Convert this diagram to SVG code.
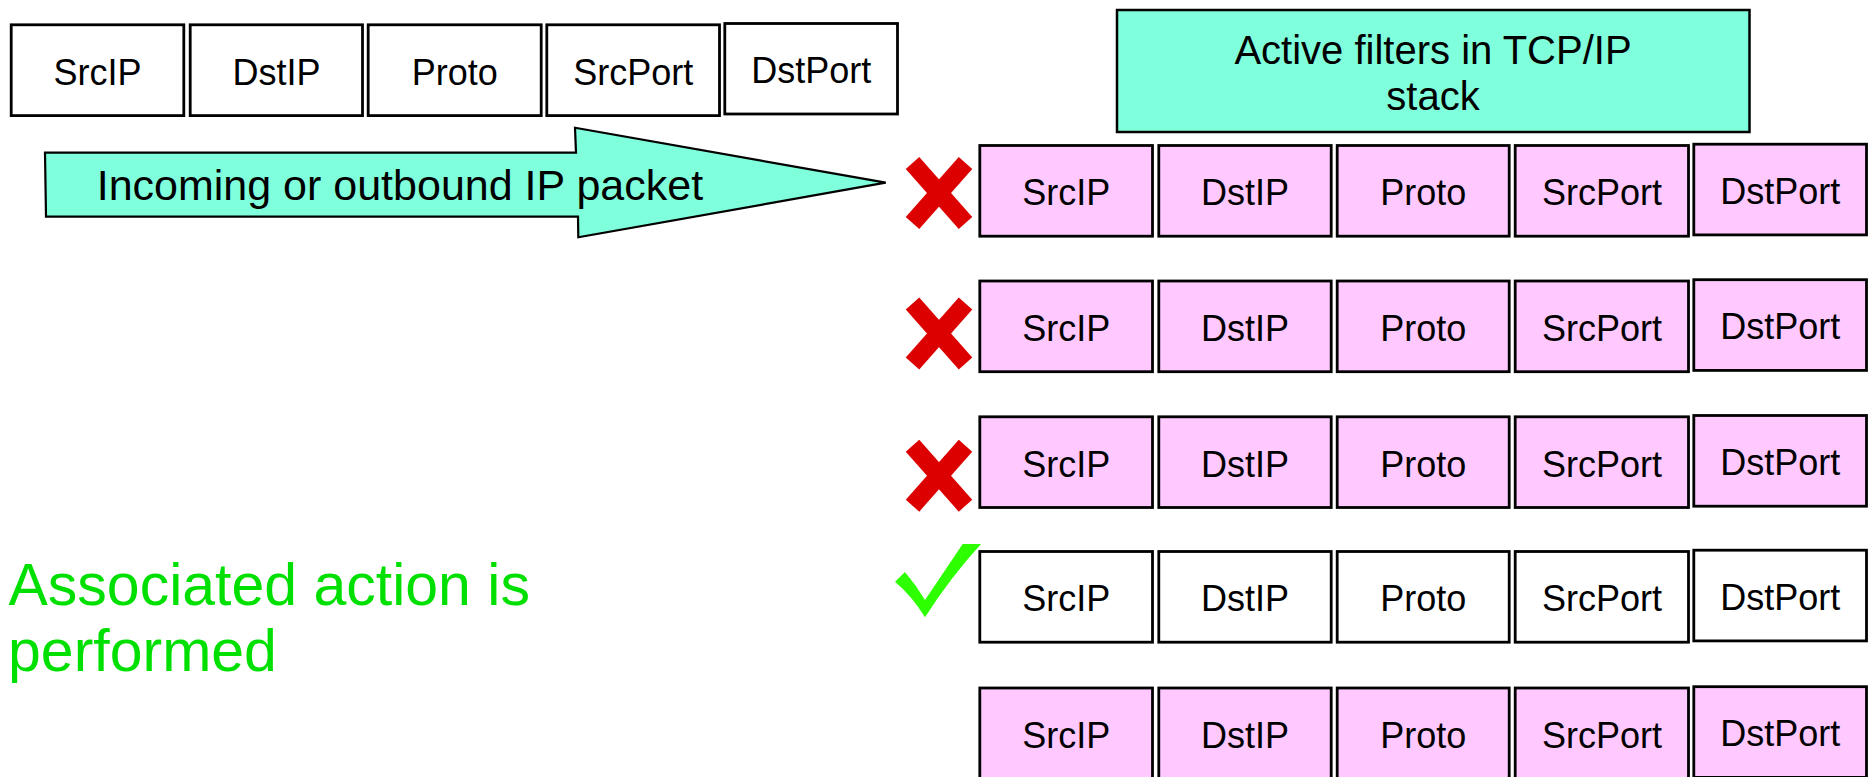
<svg xmlns="http://www.w3.org/2000/svg" xmlns:xlink="http://www.w3.org/1999/xlink" width="1873" height="777" viewBox="0 0 1873 777">
<style>
.box{fill:#ffffff;stroke:#000;stroke-width:2.8}
.pink{fill:#ffc8ff;stroke:#000;stroke-width:2.8}
.lbl{font-family:"Liberation Sans",Arial,sans-serif;font-size:36px;fill:#000;text-anchor:middle}
.teal{fill:#7fffdb;stroke:#000;stroke-width:2.5}
.ttl{font-family:"Liberation Sans",Arial,sans-serif;font-size:40px;fill:#000;text-anchor:middle}
.arrtxt{font-family:"Liberation Sans",Arial,sans-serif;font-size:43px;fill:#000}
.green{font-family:"Liberation Sans",Arial,sans-serif;font-size:59px;fill:#00e000}
.xm line{stroke:#dd0000;stroke-width:18;stroke-linecap:butt}
</style>
<defs>
<g id="xmark" class="xm">
<line x1="-26.5" y1="-30" x2="26.5" y2="30"/>
<line x1="26.5" y1="-30" x2="-26.5" y2="30"/>
</g>
</defs>
<rect width="1873" height="777" fill="#fff"/>

<g id="packet-header">
<rect class="box" x="11.2" y="24.8" width="172.6" height="90.8"/>
<text class="lbl" x="97.5" y="84.7">SrcIP</text>
<rect class="box" x="190.2" y="24.8" width="172.3" height="90.8"/>
<text class="lbl" x="276.4" y="84.7">DstIP</text>
<rect class="box" x="368.2" y="24.8" width="173" height="90.8"/>
<text class="lbl" x="454.7" y="84.7">Proto</text>
<rect class="box" x="546.8" y="24.8" width="172.7" height="90.8"/>
<text class="lbl" x="633.2" y="84.7">SrcPort</text>
<rect class="box" x="724.8" y="23.5" width="172.7" height="90.5"/>
<text class="lbl" x="811.2" y="83.2">DstPort</text>
</g>

<g id="connectors">
<polygon points="45,152.7 576,152.7 575,127.7 885.7,182.7 578.3,237.3 578,216.7 46,216.7" fill="#7fffdb" stroke="#000" stroke-width="2.2" stroke-linejoin="miter"/>
<text class="arrtxt" x="96.7" y="200">Incoming or outbound IP packet</text>
</g>

<g id="filters-title">
<rect class="teal" x="1117" y="10" width="632.5" height="122"/>
<text class="ttl" x="1433" y="64">Active filters in TCP/IP</text>
<text class="ttl" x="1433" y="110">stack</text>
</g>

<g id="filter-1">
<rect class="pink" x="979.8" y="145.5" width="172.7" height="90.7"/>
<text class="lbl" x="1066.2" y="205.3">SrcIP</text>
<rect class="pink" x="1158.8" y="145.5" width="172.4" height="90.7"/>
<text class="lbl" x="1245" y="205.3">DstIP</text>
<rect class="pink" x="1337.2" y="145.5" width="172" height="90.7"/>
<text class="lbl" x="1423.2" y="205.3">Proto</text>
<rect class="pink" x="1515.2" y="145.5" width="173.3" height="90.7"/>
<text class="lbl" x="1601.9" y="205.3">SrcPort</text>
<rect class="pink" x="1693.8" y="144.2" width="172.7" height="90.7"/>
<text class="lbl" x="1780.2" y="203.8">DstPort</text>
</g>

<g id="filter-2">
<rect class="pink" x="979.8" y="281" width="172.7" height="90.7"/>
<text class="lbl" x="1066.2" y="340.8">SrcIP</text>
<rect class="pink" x="1158.8" y="281" width="172.4" height="90.7"/>
<text class="lbl" x="1245" y="340.8">DstIP</text>
<rect class="pink" x="1337.2" y="281" width="172" height="90.7"/>
<text class="lbl" x="1423.2" y="340.8">Proto</text>
<rect class="pink" x="1515.2" y="281" width="173.3" height="90.7"/>
<text class="lbl" x="1601.9" y="340.8">SrcPort</text>
<rect class="pink" x="1693.8" y="279.7" width="172.7" height="90.7"/>
<text class="lbl" x="1780.2" y="339.3">DstPort</text>
</g>

<g id="filter-3">
<rect class="pink" x="979.8" y="416.8" width="172.7" height="90.7"/>
<text class="lbl" x="1066.2" y="476.6">SrcIP</text>
<rect class="pink" x="1158.8" y="416.8" width="172.4" height="90.7"/>
<text class="lbl" x="1245" y="476.6">DstIP</text>
<rect class="pink" x="1337.2" y="416.8" width="172" height="90.7"/>
<text class="lbl" x="1423.2" y="476.6">Proto</text>
<rect class="pink" x="1515.2" y="416.8" width="173.3" height="90.7"/>
<text class="lbl" x="1601.9" y="476.6">SrcPort</text>
<rect class="pink" x="1693.8" y="415.5" width="172.7" height="90.7"/>
<text class="lbl" x="1780.2" y="475.1">DstPort</text>
</g>

<g id="filter-4">
<rect class="box" x="979.8" y="551.5" width="172.7" height="90.7"/>
<text class="lbl" x="1066.2" y="611.3">SrcIP</text>
<rect class="box" x="1158.8" y="551.5" width="172.4" height="90.7"/>
<text class="lbl" x="1245" y="611.3">DstIP</text>
<rect class="box" x="1337.2" y="551.5" width="172" height="90.7"/>
<text class="lbl" x="1423.2" y="611.3">Proto</text>
<rect class="box" x="1515.2" y="551.5" width="173.3" height="90.7"/>
<text class="lbl" x="1601.9" y="611.3">SrcPort</text>
<rect class="box" x="1693.8" y="550.2" width="172.7" height="90.7"/>
<text class="lbl" x="1780.2" y="609.8">DstPort</text>
</g>

<g id="filter-5">
<rect class="pink" x="979.8" y="688" width="172.7" height="90.7"/>
<text class="lbl" x="1066.2" y="747.8">SrcIP</text>
<rect class="pink" x="1158.8" y="688" width="172.4" height="90.7"/>
<text class="lbl" x="1245" y="747.8">DstIP</text>
<rect class="pink" x="1337.2" y="688" width="172" height="90.7"/>
<text class="lbl" x="1423.2" y="747.8">Proto</text>
<rect class="pink" x="1515.2" y="688" width="173.3" height="90.7"/>
<text class="lbl" x="1601.9" y="747.8">SrcPort</text>
<rect class="pink" x="1693.8" y="686.7" width="172.7" height="90.7"/>
<text class="lbl" x="1780.2" y="746.3">DstPort</text>
</g>

<g id="marks">
<use xlink:href="#xmark" href="#xmark" x="939" y="193"/>
<use xlink:href="#xmark" href="#xmark" x="939" y="333.5"/>
<use xlink:href="#xmark" href="#xmark" x="939" y="475.7"/>
<path d="M895,581.7 L905,572 Q916,585 925,600 L962.7,544 L981,544 Q950,578 925,617.3 Q912,596 895,581.7 Z" fill="#2eff00"/>
</g>

<g id="action-label">
<text class="green" x="8.5" y="604.7">Associated action is</text>
<text class="green" x="8" y="670.7">performed</text>
</g>
</svg>
